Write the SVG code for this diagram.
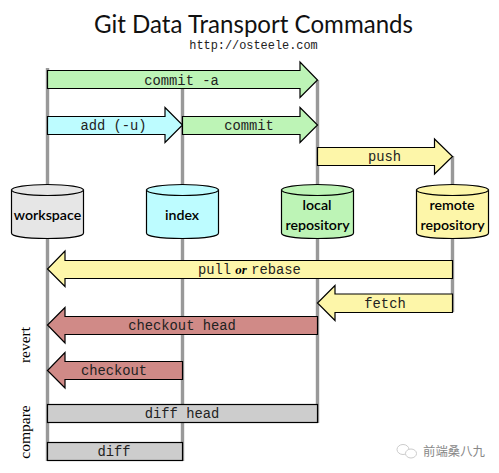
<svg xmlns="http://www.w3.org/2000/svg" width="499" height="473" viewBox="0 0 499 473">
<style>
.life{stroke:#999;stroke-width:3.400;fill:none}
.ar{stroke:#000;stroke-width:1.2;stroke-linejoin:miter}
.green{fill:#bdf4b6}.cyan{fill:#bdfcff}.yellow{fill:#fdf6a9}.red{fill:#d08a87}.gray{fill:#cdcdcd}
.cmd{font-family:"Liberation Mono",monospace;font-size:13.8px;text-anchor:middle;fill:#222}
.db{stroke:#000;stroke-width:1.2}
.dbt{font-family:Lato,"Noto Sans",sans-serif;font-weight:600;font-size:14.2px;text-anchor:middle;fill:#000}
.side{font-family:"Liberation Serif",serif;font-size:15.5px;text-anchor:middle;fill:#000}
</style>
<rect width="499" height="473" fill="#fff"/>
<g id="title">
<text x="253.500" y="33" font-family="Lato,'Noto Sans',sans-serif" font-size="24.500" text-anchor="middle" textLength="319" lengthAdjust="spacingAndGlyphs" fill="#111">Git Data Transport Commands</text>
<text x="253.500" y="48.500" font-family="'Liberation Mono',monospace" font-size="11.900" text-anchor="middle" fill="#222">http://osteele.com</text>
</g>
<g id="connectors">
<path class="life" d="M47.500 68V461M182.500 88V461M317.500 80V423M452.500 156V312"/>
</g>
<g id="commit-a"><path class="ar green" d="M47.500 70.500H300V62L317.500 80 300 97.500V88.500H47.500Z"/><text class="cmd" x="181.500" y="84.500">commit -a</text></g>
<g id="add"><path class="ar cyan" d="M47.500 116.500H165V107.500L182.500 125 165 142.500V134.500H47.500Z"/><text class="cmd" x="113.500" y="129.500">add (-u)</text></g>
<g id="commit"><path class="ar green" d="M182.500 116.500H300V107.500L317.500 125 300 142.500V134.500H182.500Z"/><text class="cmd" x="249" y="129.500">commit</text></g>
<g id="push"><path class="ar yellow" d="M317.500 147.500H434.500V139L452.500 156.500 434.500 174V165.500H317.500Z"/><text class="cmd" x="384.500" y="160.500">push</text></g>
<g id="workspace"><path class="db" fill="#e6e6e6" d="M11.500 190V233C11.500 236 23 238.500 47.500 238.500S83.500 236 83.500 233V190Z"/><ellipse class="db" cx="47.500" cy="190" rx="36" ry="5.500" fill="#e6e6e6"/><text class="dbt" x="47.500" y="220">workspace</text></g>
<g id="index"><path class="db" fill="#bdfcff" d="M146.500 190V233C146.500 236 158 238.500 182.500 238.500S218.500 236 218.500 233V190Z"/><ellipse class="db" cx="182.500" cy="190" rx="36" ry="5.500" fill="#bdfcff"/><text class="dbt" x="182" y="220">index</text></g>
<g id="local-repository"><path class="db" fill="#bdf4b6" d="M281.500 190V233C281.500 236 293 238.500 317.500 238.500S353.500 236 353.500 233V190Z"/><ellipse class="db" cx="317.500" cy="190" rx="36" ry="5.500" fill="#bdf4b6"/><text class="dbt" x="317" y="210">local</text><text class="dbt" x="317.500" y="229.500">repository</text></g>
<g id="remote-repository"><path class="db" fill="#fdf6a9" d="M416.500 190V233C416.500 236 428 238.500 452.500 238.500S488.500 236 488.500 233V190Z"/><ellipse class="db" cx="452.500" cy="190" rx="36" ry="5.500" fill="#fdf6a9"/><text class="dbt" x="452" y="210">remote</text><text class="dbt" x="452.500" y="229.500">repository</text></g>
<g id="pull"><path class="ar yellow" d="M452.500 260.500H65V251L47.500 269 65 286.500V278.500H452.500Z"/><text class="cmd" x="214.500" y="273.500">pull</text><text x="241" y="273.500" font-family="'Liberation Serif',serif" font-style="italic" font-weight="700" font-size="13" text-anchor="middle" fill="#000">or</text><text class="cmd" x="276" y="273.500">rebase</text></g>
<g id="fetch"><path class="ar yellow" d="M452.500 294H335V285.500L317.500 303 335 320.500V312.500H452.500Z"/><text class="cmd" x="385" y="307.500">fetch</text></g>
<g id="checkout-head"><path class="ar red" d="M317.500 316.500H65V307.500L47.500 325 65 343V334.500H317.500Z"/><text class="cmd" x="182" y="329.500">checkout head</text></g>
<g id="checkout"><path class="ar red" d="M182.500 361.500H65V352.500L47.500 370.500 65 388V379.500H182.500Z"/><text class="cmd" x="114" y="374.500">checkout</text></g>
<g id="diff-head"><rect class="ar gray" x="47.500" y="404.500" width="270" height="18"/><text class="cmd" x="182" y="417.500">diff head</text></g>
<g id="diff"><rect class="ar gray" x="47.500" y="442.500" width="135" height="18"/><text class="cmd" x="114" y="455.500">diff</text></g>
<g id="labels">
<text class="side" transform="translate(30 345) rotate(-90)">revert</text>
<text class="side" transform="translate(30 432) rotate(-90)">compare</text>
</g>
<g id="watermark">
<ellipse cx="403" cy="449.500" rx="6" ry="5" fill="none" stroke="#ccc" stroke-width="1"/>
<ellipse cx="411" cy="453.500" rx="5.500" ry="4.500" fill="#fff" stroke="#ccc" stroke-width="1"/>
<text x="423" y="456" font-family="'Noto Sans CJK SC',sans-serif" font-size="12.400" fill="#888">前端桑八九</text>
</g>
</svg>
